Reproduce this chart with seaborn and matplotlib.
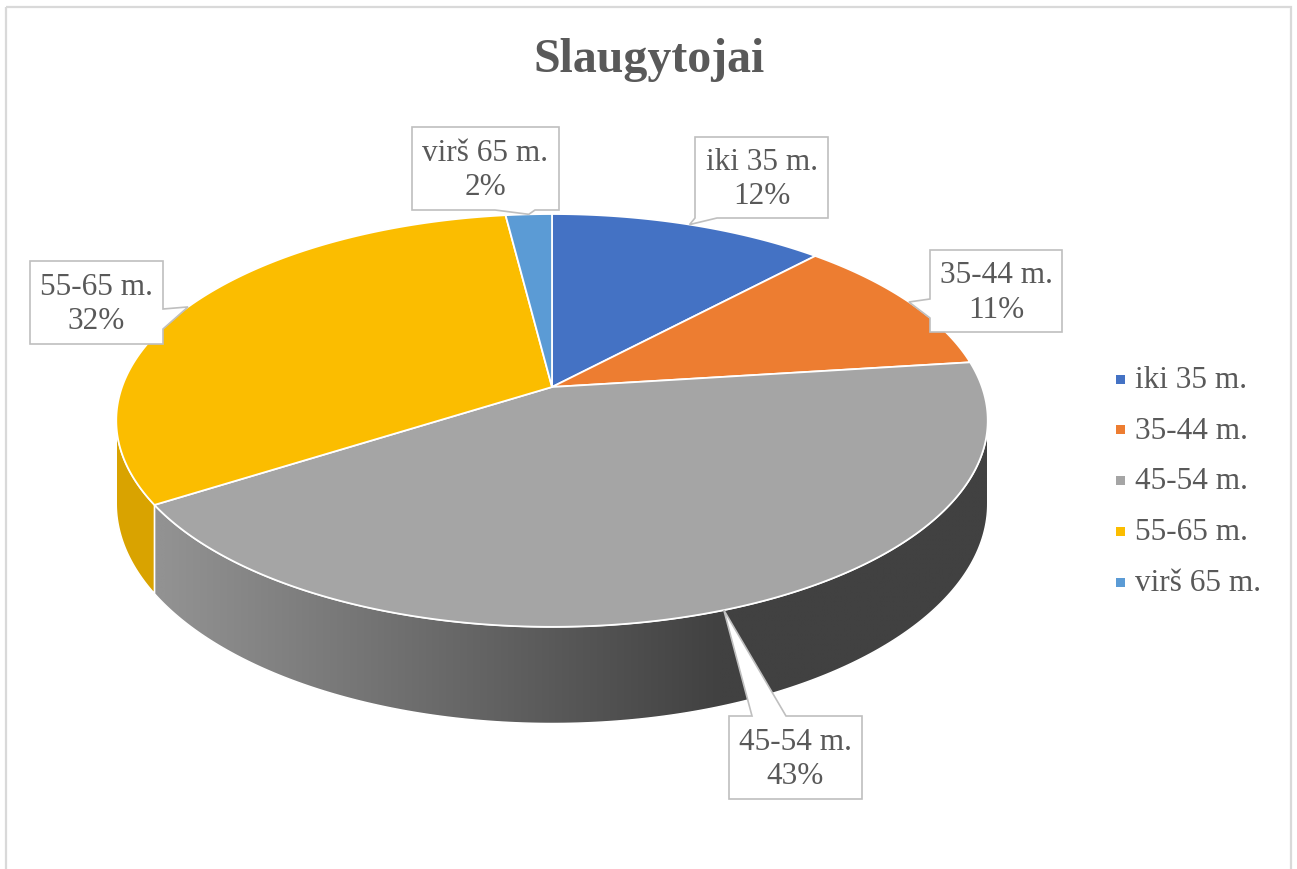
import numpy as np
import matplotlib
matplotlib.use("Agg")
import matplotlib.pyplot as plt
from matplotlib.patches import Polygon, Rectangle
from matplotlib.colors import to_rgb
import seaborn as sns

# ---------------- data ----------------
title = "Slaugytojai"
categories = ["iki 35 m.", "35-44 m.", "45-54 m.", "55-65 m.", "virš 65 m."]
shares = [12, 11, 43, 32, 2]

# ---------------- style ----------------
top_colors = ["#4472C4", "#ED7D31", "#A5A5A5", "#FBBD00", "#5B9BD5"]
side_colors = ["#2F528F", "#B85E22", None, "#D9A300", "#41719C"]  # None -> gradient
text_color = "#595959"
serif = ["Liberation Serif", "DejaVu Serif"]

sns.set_theme(style="white")
plt.rcParams["font.family"] = serif

W, Hpx = 1297, 870
fig = plt.figure(figsize=(W / 100, Hpx / 100), dpi=100)
ax = fig.add_axes([0, 0, 1, 1])
ax.set_xlim(0, W)
ax.set_ylim(Hpx, 0)
ax.axis("off")

# perspective projection of the pie disc
CX, CY, A, B, K, TH = 552.0, 388.0, 430.0, 201.0, 0.162, 81.0


def proj(phi_deg, z=0.0):
    p = np.radians(np.asarray(phi_deg, dtype=float))
    X, Z = np.sin(p), np.cos(p)
    d = 1 + K * Z
    return CX + A * X / d, CY - B * Z / d + TH * z / d


total = float(sum(shares))
bounds = np.concatenate([[0], np.cumsum(shares)]) / total * 360.0
PH1 = np.degrees(np.arccos(-K))
PH2 = 360 - PH1

# chart border
ax.add_patch(Rectangle((6, 8), 1285, 900, fill=False, edgecolor="#D9D9D9", lw=1.6, zorder=0))

# side walls
for i in range(len(shares)):
    a, b = max(bounds[i], PH1), min(bounds[i + 1], PH2)
    if a >= b:
        continue
    ph = np.linspace(a, b, 200)
    tx, ty = proj(ph, 0)
    bx, by = proj(ph[::-1], 1)
    pts = np.column_stack([np.concatenate([tx, bx]), np.concatenate([ty, by])])
    if side_colors[i] is None:
        poly = Polygon(pts, closed=True, facecolor="none", edgecolor="none", zorder=2)
        ax.add_patch(poly)
        xs = np.linspace(pts[:, 0].min(), pts[:, 0].max(), 400)
        c0, c1 = np.array(to_rgb("#929292")), np.array(to_rgb("#414141"))
        t = np.clip((xs - 165) / (720 - 165), 0, 1)[:, None]
        grad = (c0 * (1 - t) + c1 * t)[None, :, :]
        im = ax.imshow(grad, extent=(xs[0], xs[-1], pts[:, 1].max(), pts[:, 1].min()),
                       aspect="auto", interpolation="bilinear", zorder=2)
        im.set_clip_path(poly)
        ax.add_patch(Polygon(pts, closed=True, facecolor="none", edgecolor="white", lw=1.1, zorder=3))
    else:
        ax.add_patch(Polygon(pts, closed=True, facecolor=side_colors[i], edgecolor="white", lw=1.1, zorder=3))
ax.set_xlim(0, W)
ax.set_ylim(Hpx, 0)

# top faces
for i in range(len(shares)):
    ph = np.linspace(bounds[i], bounds[i + 1], 200)
    x, y = proj(ph, 0)
    pts = np.column_stack([np.concatenate([[CX], x]), np.concatenate([[CY], y])])
    ax.add_patch(Polygon(pts, closed=True, facecolor=top_colors[i], edgecolor="white", lw=1.3, zorder=4))

# callout labels: box (x0, y0, x1, y1), pointer edge, pointer base
callouts = [
    ((695, 138, 828, 219), "bottom", (695, 717)),
    ((930, 251, 1062, 333), "left", (300, 319)),
    ((729, 717, 862, 800), "top", (752, 786)),
    ((30, 262, 163, 345), "right", (310, 330)),
    ((412, 128, 559, 211), "bottom", (495, 535)),
]


def callout_pts(box, edge, base, tip):
    x0, y0, x1, y1 = box
    b1, b2 = base
    v = [(x0, y0)]
    if edge == "top":
        v += [(b1, y0), tip, (b2, y0)]
    v.append((x1, y0))
    if edge == "right":
        v += [(x1, b1), tip, (x1, b2)]
    v.append((x1, y1))
    if edge == "bottom":
        v += [(b2, y1), tip, (b1, y1)]
    v.append((x0, y1))
    if edge == "left":
        v += [(x0, b2), tip, (x0, b1)]
    return v


for i, (box, edge, base) in enumerate(callouts):
    mid = (bounds[i] + bounds[i + 1]) / 2
    tx, ty = proj(mid, 0)
    v = callout_pts(box, edge, base, (float(tx), float(ty)))
    ax.add_patch(Polygon(v, closed=True, facecolor="white", edgecolor="#BFBFBF", lw=1.2, zorder=6))
    ax.text((box[0] + box[2]) / 2, (box[1] + box[3]) / 2 + 1,
            f"{categories[i]}\n{shares[i]:.0f}%", ha="center", va="center",
            fontsize=22.5, color=text_color, linespacing=1.27, zorder=7, family=serif)

# title
ax.text(649, 60, title, ha="center", va="center", fontsize=34.5, fontweight="bold",
        color=text_color, family=serif, zorder=7)

# legend
leg_y = [380, 430.5, 481, 532, 583]
for i, cat in enumerate(categories):
    ax.add_patch(Rectangle((1116, leg_y[i] - 4.5), 9, 9, facecolor=top_colors[i],
                           edgecolor="none", zorder=7))
    ax.text(1135, leg_y[i] + 1, cat, ha="left", va="center", fontsize=22.5,
            color=text_color, family=serif, zorder=7)

fig.savefig("out.png", dpi=100, facecolor="white")
